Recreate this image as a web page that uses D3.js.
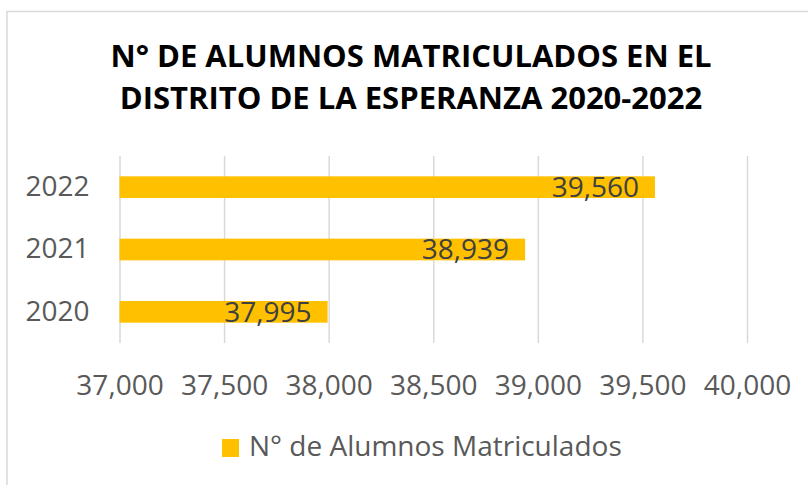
<!DOCTYPE html>
<html>
<head>
<meta charset="utf-8">
<script src="https://cdn.jsdelivr.net/npm/d3@7"></script>
<style>
  body { margin: 0; background: #fff; }
  text { font-family: "Open Sans", sans-serif; }
</style>
</head>
<body>
<div id="plot"></div>
<script>
// Data
var years = ["2020", "2021", "2022"];
var alumnos = [37995, 38939, 39560];
var xTicks = [37000, 37500, 38000, 38500, 39000, 39500, 40000];
var titleLines = ["N° DE ALUMNOS MATRICULADOS EN EL", "DISTRITO DE LA ESPERANZA 2020-2022"];
var seriesName = "N° de Alumnos Matriculados";

var svgWidth = 808;
var svgHeight = 485;

// plot area inside the chart
var margin = {
  top: 156,
  right: 61,
  bottom: 142,
  left: 119.5
};

var width = svgWidth - margin.left - margin.right;
var height = svgHeight - margin.top - margin.bottom;

var barColor = "#FFC000";
var textColor = "#595959";

var svg = d3.select("#plot")
  .append("svg")
  .attr("width", svgWidth)
  .attr("height", svgHeight);

// chart border (only top and left are visible in the picture)
svg.append("rect")
  .attr("x", 7)
  .attr("y", 11.5)
  .attr("width", svgWidth + 10)
  .attr("height", svgHeight + 10)
  .attr("fill", "none")
  .attr("stroke", "#d9d9d9")
  .attr("stroke-width", 1.5);

// title
svg.append("g")
  .selectAll("text")
  .data(titleLines)
  .enter()
  .append("text")
  .attr("x", 411)
  .attr("y", (d, i) => 67 + i * 41.6)
  .attr("text-anchor", "middle")
  .attr("font-size", "31px")
  .attr("font-weight", "bold")
  .attr("fill", "#000")
  .text(d => d);

var chartGroup = svg.append("g")
  .attr("transform", `translate(${margin.left}, ${margin.top})`);

var xLinearScale = d3.scaleLinear()
  .domain([xTicks[0], xTicks[xTicks.length - 1]])
  .range([0, width]);

var yBandScale = d3.scaleBand()
  .domain(years.slice().reverse())
  .range([0, height])
  .paddingInner(0.652)
  .paddingOuter(0.326);

// x axis with gridlines
var bottomAxis = d3.axisBottom(xLinearScale)
  .tickValues(xTicks)
  .tickSize(-height)
  .tickPadding(32)
  .tickFormat(d3.format(","));

var xAxis = chartGroup.append("g")
  .attr("transform", `translate(0, ${height})`)
  .call(bottomAxis);

xAxis.select(".domain").remove();
xAxis.selectAll(".tick line")
  .attr("stroke", "#d9d9d9")
  .attr("stroke-width", 1.5);
xAxis.selectAll(".tick text")
  .attr("font-size", "28px")
  .attr("font-family", "Open Sans")
  .attr("fill", textColor);

// y axis (years)
var leftAxis = d3.axisLeft(yBandScale)
  .tickSize(0)
  .tickPadding(30);

var yAxis = chartGroup.append("g")
  .call(leftAxis);

yAxis.select(".domain").remove();
yAxis.selectAll(".tick text")
  .attr("font-size", "28px")
  .attr("font-family", "Open Sans")
  .attr("fill", textColor);

// bars
chartGroup.selectAll("rect.bar")
  .data(alumnos)
  .enter()
  .append("rect")
  .attr("class", "bar")
  .attr("x", 0)
  .attr("y", (d, i) => yBandScale(years[i]))
  .attr("width", d => xLinearScale(d))
  .attr("height", yBandScale.bandwidth())
  .attr("fill", barColor);

// data labels, inside end
chartGroup.selectAll(".label")
  .data(alumnos)
  .enter()
  .append("text")
  .attr("class", "label")
  .attr("x", d => xLinearScale(d) - 16)
  .attr("y", (d, i) => yBandScale(years[i]) + yBandScale.bandwidth() / 2)
  .attr("dy", "0.35em")
  .attr("text-anchor", "end")
  .attr("font-size", "28px")
  .attr("fill", "#404040")
  .text(d => d3.format(",")(d));

// legend
var legend = svg.append("g")
  .attr("transform", "translate(222, 439)");

legend.append("rect")
  .attr("width", 17)
  .attr("height", 18)
  .attr("fill", barColor);

legend.append("text")
  .attr("x", 27)
  .attr("y", 17)
  .attr("font-size", "28px")
  .attr("fill", textColor)
  .text(seriesName);
</script>
</body>
</html>
